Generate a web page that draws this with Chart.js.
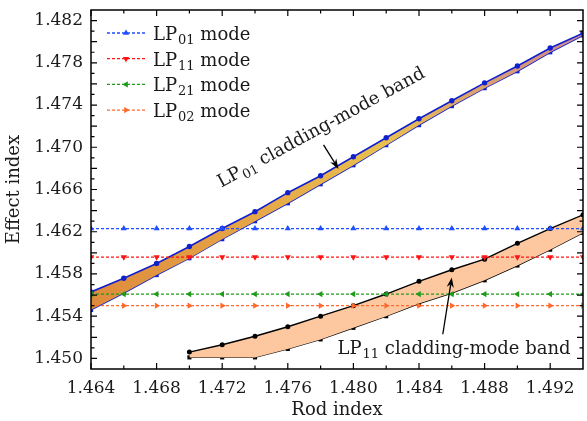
<!DOCTYPE html>
<html>
<head>
<meta charset="utf-8">
<script src="https://cdn.jsdelivr.net/npm/chart.js@4/dist/chart.umd.min.js"></script>
<style>
  html, body { margin: 0; padding: 0; background: #fff; }
  #chart { display: block; }
</style>
</head>
<body>
<canvas id="chart" width="587" height="421"></canvas>
<script>
/* rod index samples (x) */
const rodIndex = [1.464, 1.466, 1.468, 1.470, 1.472, 1.474, 1.476, 1.478,
                  1.480, 1.482, 1.484, 1.486, 1.488, 1.490, 1.492, 1.494];
const rodIndexLP11 = [1.470, 1.472, 1.474, 1.476, 1.478, 1.480, 1.482,
                      1.484, 1.486, 1.488, 1.490, 1.492, 1.494];

/* core mode effective indices (flat vs rod index) */
const lp01Mode = [1.4623, 1.4623, 1.4623, 1.4623, 1.4623, 1.4623, 1.4623, 1.4623,
                  1.4623, 1.4623, 1.4623, 1.4623, 1.4623, 1.4623, 1.4623, 1.4623];
const lp11Mode = [1.4596, 1.4596, 1.4596, 1.4596, 1.4596, 1.4596, 1.4596, 1.4596,
                  1.4596, 1.4596, 1.4596, 1.4596, 1.4596, 1.4596, 1.4596, 1.4596];
const lp21Mode = [1.4561, 1.4561, 1.4561, 1.4561, 1.4561, 1.4561, 1.4561, 1.4561,
                  1.4561, 1.4561, 1.4561, 1.4561, 1.4561, 1.4561, 1.4561, 1.4561];
const lp02Mode = [1.4550, 1.4550, 1.4550, 1.4550, 1.4550, 1.4550, 1.4550, 1.4550,
                  1.4550, 1.4550, 1.4550, 1.4550, 1.4550, 1.4550, 1.4550, 1.4550];

/* LP01 cladding-mode band edges */
const lp01BandTop = [1.4563, 1.4576, 1.4590, 1.4606, 1.4623, 1.4639, 1.4657, 1.4673,
                     1.4691, 1.4709, 1.4727, 1.4744, 1.4761, 1.4777, 1.4794, 1.4808];
const lp01BandBottom = [1.4546, 1.4562, 1.4579, 1.4595, 1.4613, 1.4630, 1.4647, 1.4665,
                        1.4683, 1.4702, 1.4721, 1.4739, 1.4756, 1.4772, 1.4790, 1.4806];

/* LP11 cladding-mode band edges */
const lp11BandTop = [1.4506, 1.4513, 1.4521, 1.4530, 1.4540, 1.4550, 1.4561,
                     1.4573, 1.4584, 1.4594, 1.4609, 1.4623, 1.4636];
const lp11BandBottom = [1.4501, 1.4501, 1.4501, 1.4509, 1.4518, 1.4529, 1.4540,
                        1.4552, 1.4562, 1.4574, 1.4588, 1.4603, 1.4619];

/* tick labels */
const xTicks = [1.464, 1.468, 1.472, 1.476, 1.480, 1.484, 1.488, 1.492];
const yTicks = [1.450, 1.452, 1.454, 1.456, 1.458, 1.460, 1.462, 1.464, 1.466,
                1.468, 1.470, 1.472, 1.474, 1.476, 1.478, 1.480, 1.482];

const FONT = '"DejaVu Serif", "Liberation Serif", serif';
const INK = '#1a1a1a';

function pts(xs, ys) {
    return xs.map((x, i) => ({ x: x, y: ys[i] }));
}

/* legend entries: label parts, colour, marker */
const legendItems = [
    { sub: '01', color: '#1f4fff', rot: 0 },
    { sub: '11', color: '#ff1414', rot: 180 },
    { sub: '21', color: '#1f9a1a', rot: 270 },
    { sub: '02', color: '#ff6a2e', rot: 90 }
];

function modeLine(data, item) {
    return {
        data: pts(rodIndex, data),
        showLine: true,
        borderColor: item.color,
        backgroundColor: item.color,
        borderWidth: 1.3,
        borderDash: [3, 2],
        pointStyle: 'triangle',
        rotation: item.rot,
        pointRadius: 3.6,
        pointBorderWidth: 0,
        order: 1
    };
}

function lp01Fill(c) {
    const area = c.chart.chartArea;
    if (!area) return '#e8b04a';
    const g = c.chart.ctx.createLinearGradient(area.left, 0, area.right, 0);
    g.addColorStop(0.0, '#de8a3c');
    g.addColorStop(0.35, '#e6a848');
    g.addColorStop(0.6, '#e9c050');
    g.addColorStop(0.8, '#dca070');
    g.addColorStop(1.0, '#d08890');
    return g;
}

const datasets = [
    {
        data: pts(rodIndex, lp01BandTop), showLine: true, fill: '+1',
        borderColor: '#1020cc', backgroundColor: lp01Fill,
        pointBackgroundColor: '#1020cc', pointBorderWidth: 0,
        borderWidth: 1.6, pointStyle: 'circle', pointRadius: 2.7, order: 3
    },
    {
        data: pts(rodIndex, lp01BandBottom), showLine: true,
        borderColor: '#1020cc', backgroundColor: '#1020cc', pointBorderWidth: 0,
        borderWidth: 1.6, pointStyle: 'rect', pointRadius: 3, order: 3
    },
    {
        data: pts(rodIndexLP11, lp11BandTop), showLine: true, fill: '+1',
        borderColor: '#000', backgroundColor: '#fdc8a0',
        pointBackgroundColor: '#000', pointBorderWidth: 0,
        borderWidth: 1.4, pointStyle: 'circle', pointRadius: 2.5, order: 2
    },
    {
        data: pts(rodIndexLP11, lp11BandBottom), showLine: true,
        borderColor: '#000', backgroundColor: '#000', pointBorderWidth: 0,
        borderWidth: 1.4, pointStyle: 'rect', pointRadius: 2.9, order: 2
    },
    modeLine(lp01Mode, legendItems[0]),
    modeLine(lp11Mode, legendItems[1]),
    modeLine(lp21Mode, legendItems[2]),
    modeLine(lp02Mode, legendItems[3])
];

/* text with a subscript, drawn at the current origin */
function subText(ctx, base, sub, rest, size) {
    ctx.font = size + 'px ' + FONT;
    ctx.fillText(base, 0, 0);
    let w = ctx.measureText(base).width;
    ctx.font = Math.round(size * 0.7) + 'px ' + FONT;
    ctx.fillText(sub, w + 1, 4);
    w += ctx.measureText(sub).width + 1;
    ctx.font = size + 'px ' + FONT;
    ctx.fillText(rest, w, 0);
}

function arrow(ctx, x0, y0, x1, y1) {
    const a = Math.atan2(y1 - y0, x1 - x0);
    const len = 10, half = 3.6;
    ctx.beginPath();
    ctx.moveTo(x0, y0);
    ctx.lineTo(x1 - Math.cos(a) * len * 0.7, y1 - Math.sin(a) * len * 0.7);
    ctx.lineWidth = 1.3;
    ctx.strokeStyle = '#000';
    ctx.stroke();
    ctx.beginPath();
    ctx.moveTo(x1, y1);
    ctx.lineTo(x1 - Math.cos(a) * len - Math.sin(a) * half, y1 - Math.sin(a) * len + Math.cos(a) * half);
    ctx.lineTo(x1 - Math.cos(a) * len * 0.7, y1 - Math.sin(a) * len * 0.7);
    ctx.lineTo(x1 - Math.cos(a) * len + Math.sin(a) * half, y1 - Math.sin(a) * len - Math.cos(a) * half);
    ctx.closePath();
    ctx.fillStyle = '#000';
    ctx.fill();
}

/* frame, inward ticks, legend and band annotations */
const decorations = {
    id: 'decorations',
    afterDraw(chart) {
        const ctx = chart.ctx;
        const a = chart.chartArea;
        const sx = chart.scales.x, sy = chart.scales.y;
        ctx.save();

        // ticks on all four sides
        ctx.strokeStyle = '#000';
        ctx.lineWidth = 1.2;
        ctx.beginPath();
        for (let i = 0; i < xTicks.length; i++) {
            const v = xTicks[i];
            const px = sx.getPixelForValue(v);
            ctx.moveTo(px, a.bottom); ctx.lineTo(px, a.bottom - 6);
            ctx.moveTo(px, a.top); ctx.lineTo(px, a.top + 6);
            const m = sx.getPixelForValue(v + 0.002);
            if (m < a.right - 1) {
                ctx.moveTo(m, a.bottom); ctx.lineTo(m, a.bottom - 3.5);
                ctx.moveTo(m, a.top); ctx.lineTo(m, a.top + 3.5);
            }
        }
        for (let i = 0; i < yTicks.length; i++) {
            const v = yTicks[i];
            const py = sy.getPixelForValue(v);
            ctx.moveTo(a.left, py); ctx.lineTo(a.left + 6, py);
            ctx.moveTo(a.right, py); ctx.lineTo(a.right - 6, py);
            for (const d of [-0.001, 0.001]) {
                const m = sy.getPixelForValue(v + d);
                if (m > a.top + 1 && m < a.bottom - 1) {
                    ctx.moveTo(a.left, m); ctx.lineTo(a.left + 3.5, m);
                    ctx.moveTo(a.right, m); ctx.lineTo(a.right - 3.5, m);
                }
            }
        }
        ctx.stroke();
        ctx.lineWidth = 1.5;
        ctx.strokeRect(a.left, a.top, a.right - a.left, a.bottom - a.top);

        // legend
        ctx.fillStyle = INK;
        legendItems.forEach((item, i) => {
            const y = a.top + 23 + i * 25.7;
            ctx.save();
            ctx.strokeStyle = item.color;
            ctx.lineWidth = 1.3;
            ctx.setLineDash([3, 2]);
            ctx.beginPath();
            ctx.moveTo(a.left + 16, y);
            ctx.lineTo(a.left + 55, y);
            ctx.stroke();
            ctx.setLineDash([]);
            ctx.fillStyle = item.color;
            Chart.helpers.drawPoint(ctx, { pointStyle: 'triangle', rotation: item.rot, radius: 3.6, borderWidth: 0 }, a.left + 35, y);
            ctx.restore();
            ctx.save();
            ctx.fillStyle = INK;
            ctx.textBaseline = 'alphabetic';
            ctx.translate(a.left + 62, y + 7);
            subText(ctx, 'LP', item.sub, ' mode', 18);
            ctx.restore();
        });

        // LP01 band label and arrow
        ctx.fillStyle = INK;
        ctx.save();
        ctx.translate(sx.getPixelForValue(1.47194), sy.getPixelForValue(1.46616));
        ctx.rotate(-28.5 * Math.PI / 180);
        subText(ctx, 'LP', '01', ' cladding-mode band', 18);
        ctx.restore();
        arrow(ctx, sx.getPixelForValue(1.47818), sy.getPixelForValue(1.47022),
                   sx.getPixelForValue(1.47909), sy.getPixelForValue(1.46795));

        // LP11 band label and arrow
        ctx.fillStyle = INK;
        ctx.save();
        ctx.translate(sx.getPixelForValue(1.47903), sy.getPixelForValue(1.45041));
        subText(ctx, 'LP', '11', ' cladding-mode band', 18);
        ctx.restore();
        arrow(ctx, sx.getPixelForValue(1.48545), sy.getPixelForValue(1.45229),
                   sx.getPixelForValue(1.48600), sy.getPixelForValue(1.45767));

        ctx.restore();
    }
};

const chart = new Chart(document.getElementById('chart'), {
    type: 'scatter',
    data: { datasets: datasets },
    options: {
        responsive: false,
        animation: false,
        layout: { padding: { top: 10, right: 1, left: 0, bottom: 0 } },
        plugins: { legend: { display: false }, tooltip: { enabled: false } },
        scales: {
            x: {
                type: 'linear', min: 1.464, max: 1.494,
                afterBuildTicks: s => { s.ticks = xTicks.map(v => ({ value: v })); },
                afterFit: s => { s.height = 52; s.paddingLeft = 0; s.paddingRight = 0; },
                grid: { display: false, drawTicks: false },
                border: { display: false },
                ticks: { padding: 9, color: INK, maxRotation: 0, font: { family: FONT, size: 17 },
                         callback: v => v.toFixed(3) },
                title: { display: true, text: 'Rod index', color: INK,
                         font: { family: FONT, size: 18 }, padding: { top: 0, bottom: 0 } }
            },
            y: {
                type: 'linear', min: 1.449, max: 1.483,
                afterBuildTicks: s => { s.ticks = yTicks.map(v => ({ value: v })); },
                afterFit: s => { s.width = 91; s.paddingTop = 0; s.paddingBottom = 0; },
                grid: { display: false, drawTicks: false },
                border: { display: false },
                ticks: { padding: 8, color: INK, font: { family: FONT, size: 17 },
                         callback: v => v.toFixed(3) },
                title: { display: true, text: 'Effect index', color: INK,
                         font: { family: FONT, size: 18 }, padding: { top: 4, bottom: 0 } }
            }
        }
    },
    plugins: [decorations]
});
</script>
</body>
</html>
